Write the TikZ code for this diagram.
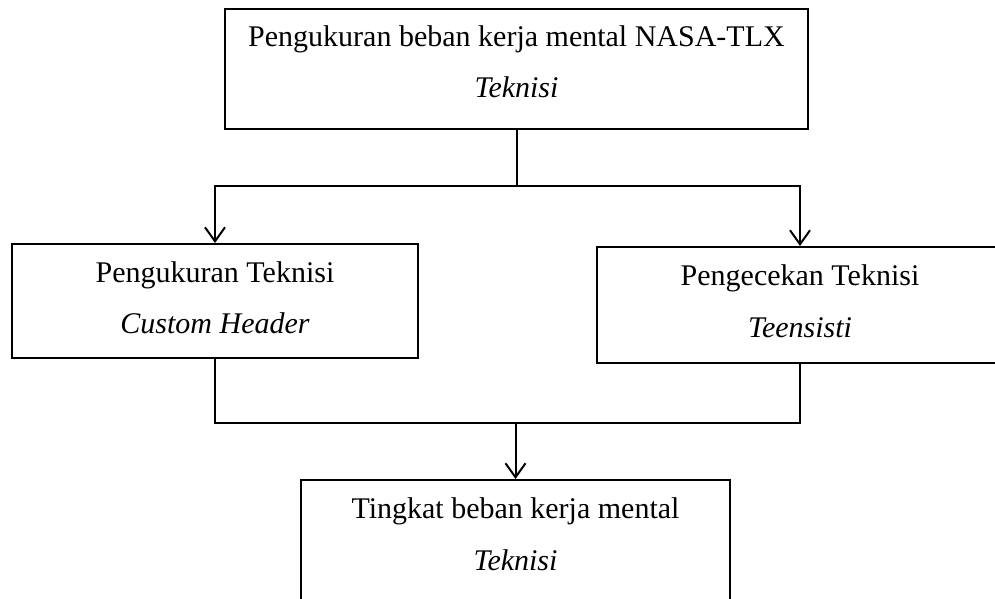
\documentclass[tikz,border=0pt]{standalone}
\usepackage{fontspec}
\setmainfont{Liberation Serif}
\usetikzlibrary{arrows.meta}
\begin{document}
\begin{tikzpicture}[x=1pt,y=-1pt,
  box/.style={draw, line width=2pt, rectangle, inner sep=0pt},
  txt/.style={inner sep=0pt, anchor=base, font=\fontsize{30}{36}\selectfont},
  conn/.style={line width=2pt},
  arr/.style={line width=2pt, -{Straight Barb[length=14pt,width=20pt,line width=2pt]}}]
\useasboundingbox (0,0) rectangle (995,599);
% boxes
\node[box, minimum width=583pt, minimum height=120pt] (top) at (516.5,69) {};
\node[box, minimum width=406pt, minimum height=114pt] (lbox) at (215,301) {};
\node[box, minimum width=406pt, minimum height=116pt] (rbox) at (800,305) {};
\node[box, minimum width=429pt, minimum height=130pt] (bbox) at (515.5,545) {};
% texts
\node[txt] (t1) at (516.5,47) {Pengukuran beban kerja mental NASA-TLX};
\node[txt] (t2) at (516.5,98) {\itshape Teknisi};
\node[txt] (l1) at (215,282) {Pengukuran Teknisi};
\node[txt] (l2) at (215,333) {\itshape Custom Header};
\node[txt] (r1) at (800,285) {Pengecekan Teknisi};
\node[txt] (r2) at (800,337) {\itshape Teensisti};
\node[txt] (b1) at (515.5,518) {Tingkat beban kerja mental};
\node[txt] (b2) at (515.5,570) {\itshape Teknisi};
% junctions
\coordinate (j1) at (516.5,186);
\coordinate (j2) at (515.5,423);
% connectors
\draw[conn] (top.south) -- (j1);
\draw[arr] (j1) -| (lbox.north);
\draw[arr] (j1) -| (rbox.north);
\draw[conn] (lbox.south) |- (j2);
\draw[conn] (rbox.south) |- (j2);
\draw[arr] (j2) -- (bbox.north);
\end{tikzpicture}
\end{document}
